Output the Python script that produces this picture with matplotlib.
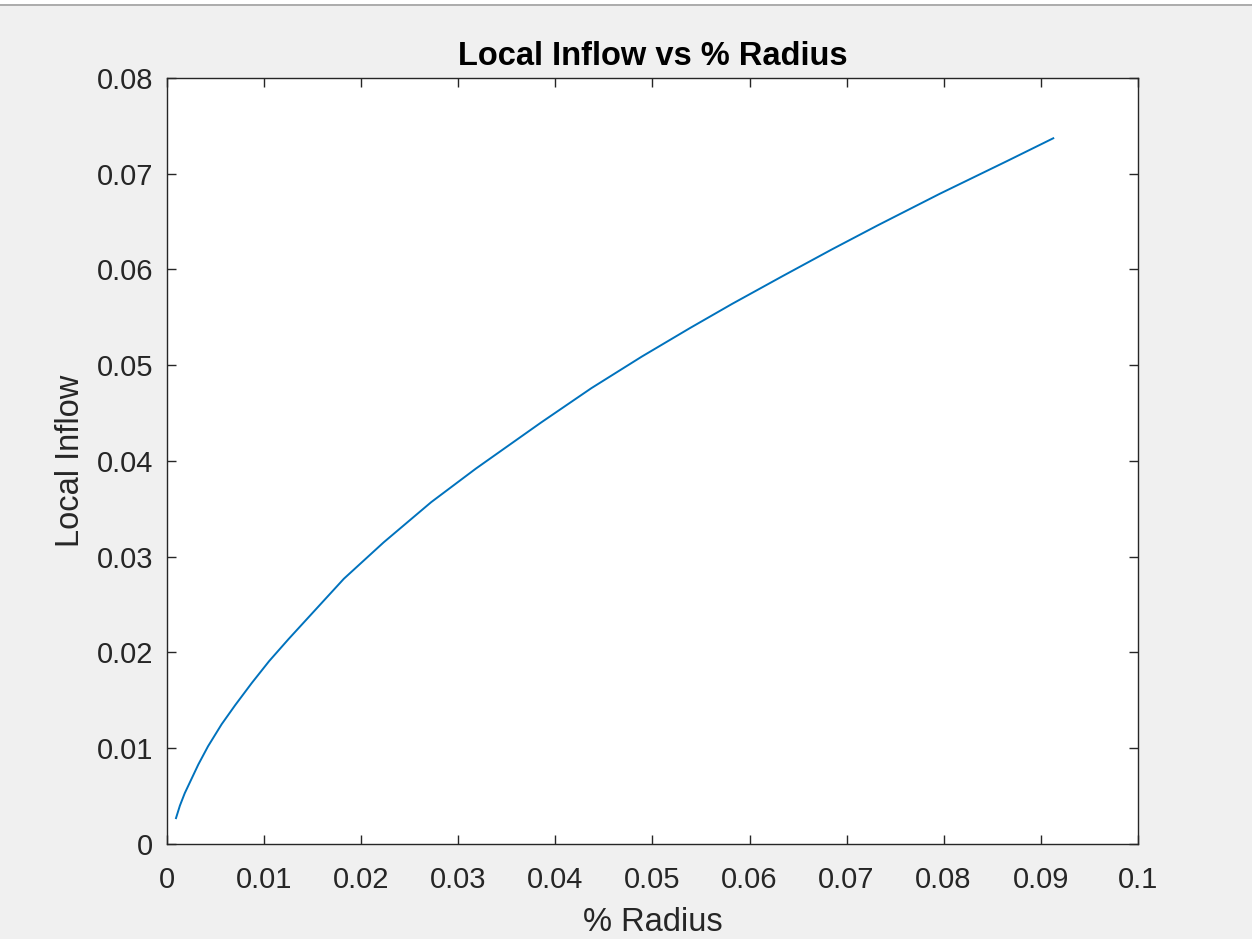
import numpy as np
import matplotlib.pyplot as plt
from matplotlib.lines import Line2D

plt.rcParams['font.family'] = ['Liberation Sans', 'DejaVu Sans']

# Values
radius = [0.0009, 0.0013, 0.0018, 0.0032, 0.0042, 0.0056, 0.0070, 0.0087, 0.0105,
          0.0125, 0.0182, 0.0223, 0.0272, 0.0318, 0.0385, 0.0437, 0.0489, 0.0539,
          0.0582, 0.0634, 0.0685, 0.0732, 0.0796, 0.0865, 0.0913]
inflow = [0.0027, 0.0040, 0.0053, 0.0083, 0.0102, 0.0125, 0.0145, 0.0168, 0.0191,
          0.0214, 0.0277, 0.0315, 0.0357, 0.0392, 0.0440, 0.0476, 0.0509, 0.0539,
          0.0564, 0.0593, 0.0621, 0.0646, 0.0679, 0.0713, 0.0737]

xticks = [0, 0.01, 0.02, 0.03, 0.04, 0.05, 0.06, 0.07, 0.08, 0.09, 0.1]
xticklabels = ['0', '0.01', '0.02', '0.03', '0.04', '0.05', '0.06', '0.07', '0.08', '0.09', '0.1']
yticks = [0, 0.01, 0.02, 0.03, 0.04, 0.05, 0.06, 0.07, 0.08]
yticklabels = ['0', '0.01', '0.02', '0.03', '0.04', '0.05', '0.06', '0.07', '0.08']

fig = plt.figure(figsize=(12.52, 9.39), dpi=100, facecolor='#f0f0f0')
ax = fig.add_axes([0.1336, 0.1012, 0.7751, 0.8158])
ax.set_facecolor('white')

ax.plot(radius, inflow, color='#0072bd', linewidth=1.4, solid_joinstyle='round')

ax.set_xlim(0, 0.1)
ax.set_ylim(0, 0.08)
ax.set_xticks(xticks)
ax.set_xticklabels(xticklabels)
ax.set_yticks(yticks)
ax.set_yticklabels(yticklabels)

dark = '#262626'
for s in ax.spines.values():
    s.set_color(dark)
    s.set_linewidth(1.0)
ax.tick_params(direction='in', length=6.5, width=1.0, color=dark, labelcolor=dark,
               labelsize=21, top=True, right=True)
ax.tick_params(axis='x', pad=16)
ax.tick_params(axis='y', pad=10)

ax.set_title('Local Inflow vs % Radius', fontsize=23.5, fontweight='bold', color='black', pad=9)
ax.set_xlabel('% Radius', fontsize=23.5, color=dark, labelpad=9)
ax.set_ylabel('Local Inflow', fontsize=23.5, color=dark, labelpad=8)

# thin window border along the top, as in the screenshot
fig.add_artist(Line2D([0, 1], [1 - 4.5 / 939, 1 - 4.5 / 939], color='#a0a0a0', linewidth=1.2))
fig.patches.append(plt.Rectangle((0, 1 - 4 / 939), 1, 4 / 939, transform=fig.transFigure,
                                 facecolor='white', edgecolor='none', zorder=-1))

fig.savefig('out.png', dpi=100, facecolor=fig.get_facecolor())
